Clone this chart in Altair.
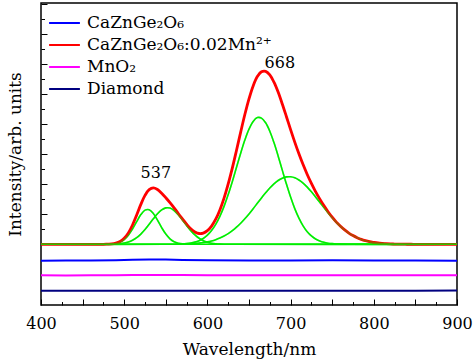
import altair as alt
import pandas as pd

FONT = "DejaVu Serif"

# ---------------- data ----------------
series_names = ["CaZnGe₂O₆", "CaZnGe₂O₆:0.02Mn²⁺", "MnO₂", "Diamond"]
series_colors = ["#0000ff", "#ff0000", "#ff00ff", "#000080"]

# flat reference spectra (offset below the main spectrum)
wl_base = [400, 430, 460, 490, 510, 530, 550, 570, 600, 650, 700, 750, 800, 850, 900]
blue_vals = [-16.4, -16.3, -16.2, -15.9, -15.5, -15.2, -15.3, -15.7, -16.0, -16.2, -16.3, -16.0, -16.2, -16.3, -16.5]
magenta_vals = [-31.0, -31.1, -31.0, -30.9, -30.8, -30.7, -30.8, -30.8, -30.9, -30.9, -31.0, -30.9, -31.0, -30.9, -30.9]
navy_vals = [-46.4, -46.5, -46.4, -46.5, -46.4, -46.4, -46.5, -46.4, -46.4, -46.5, -46.4, -46.5, -46.4, -46.4, -46.3]

# measured emission spectrum CaZnGe2O6:0.02Mn2+
wl_red = [400, 470, 475, 480, 485, 490, 495, 500, 505, 510, 515, 520, 525, 530, 535, 540, 545, 550,
          555, 560, 565, 570, 575, 580, 585, 590, 595, 600, 605, 610, 615, 620, 625, 630, 635, 640,
          645, 650, 655, 660, 665, 670, 675, 680, 685, 690, 695, 700, 705, 710, 715, 720, 725, 730,
          735, 740, 745, 750, 755, 760, 765, 770, 775, 780, 785, 790, 795, 800, 805, 810, 815, 820,
          825, 830, 835, 840, 845, 850, 855, 860, 900]
red_vals = [0, 0, 0, 0.2, 0.4, 1.2, 2.8, 6.0, 11.4, 19.3, 29.3, 39.9, 48.9, 54.6, 56.4, 54.8, 51.1, 46.6,
            41.7, 36.5, 30.8, 25.4, 20.1, 15.5, 12.4, 10.8, 11.2, 13.6, 18.2, 25.1, 34.4, 46.2, 60.4, 76.5, 94.1, 112.2,
            129.8, 145.5, 158.4, 167.7, 172.6, 173.0, 169.4, 162.1, 152.2, 140.3, 127.6, 114.7, 102.2, 90.5, 79.7, 69.8, 60.9, 52.7,
            45.4, 38.7, 32.6, 27.1, 22.2, 18.1, 14.4, 11.2, 8.7, 6.6, 4.9, 3.6, 2.6, 1.9, 1.3, 0.9, 0.6, 0.4,
            0.25, 0.16, 0.1, 0.06, 0.03, 0, 0, 0, 0]

# fitted components (green)
wl_g1 = [400, 470, 475, 480, 485, 490, 495, 500, 505, 510, 515, 520, 525, 530, 535, 540, 545, 550, 555,
         560, 565, 570, 575, 580, 590, 900]
g1_vals = [0, 0, 0.03, 0.1, 0.31, 0.88, 2.18, 4.74, 9.08, 15.3, 22.7, 29.7, 34.2, 34.6, 30.9, 24.2, 16.7, 10.2, 5.45,
           2.57, 1.07, 0.39, 0.12, 0.03, 0, 0]

wl_g2 = [400, 470, 480, 485, 490, 495, 500, 505, 510, 515, 520, 525, 530, 535, 540, 545, 550, 555, 560,
         565, 570, 575, 580, 585, 590, 595, 600, 605, 610, 615, 620, 630, 900]
g2_vals = [0, 0, 0.06, 0.13, 0.3, 0.63, 1.25, 2.31, 4.04, 6.61, 10.2, 14.7, 20.0, 25.5, 30.6, 34.4, 36.4, 36.2, 33.8,
           29.6, 24.4, 18.9, 13.7, 9.38, 6.02, 3.63, 2.05, 1.09, 0.55, 0.26, 0.11, 0.02, 0]

wl_g3 = [400, 550, 560, 570, 575, 580, 585, 590, 595, 600, 605, 610, 615, 620, 625, 630, 635, 640, 645,
         650, 655, 660, 665, 670, 675, 680, 685, 690, 695, 700, 705, 710, 715, 720, 725, 730, 735, 740,
         745, 750, 755, 760, 770, 900]
g3_vals = [0, 0, 0.1, 0.38, 0.71, 1.26, 2.18, 3.63, 5.84, 9.09, 13.7, 19.9, 27.9, 37.9, 49.7, 62.9, 77.0, 91.1, 104.2,
           115.1, 122.8, 126.7, 126.2, 121.5, 113.1, 101.7, 88.4, 74.2, 60.2, 47.2, 35.7, 26.2, 18.5, 12.6, 8.35, 5.32, 3.28, 1.96,
           1.13, 0.63, 0.33, 0.17, 0.04, 0]

wl_g4 = [400, 540, 560, 570, 575, 580, 585, 590, 595, 600, 605, 610, 615, 620, 625, 630, 635, 640, 645,
         650, 655, 660, 665, 670, 675, 680, 685, 690, 695, 700, 705, 710, 715, 720, 725, 730, 735, 740,
         745, 750, 755, 760, 765, 770, 775, 780, 785, 790, 795, 800, 805, 810, 815, 820, 825, 830, 835,
         840, 845, 850, 870, 900]
g4_vals = [0, 0, 0.09, 0.23, 0.36, 0.54, 0.81, 1.19, 1.72, 2.43, 3.38, 4.63, 6.23, 8.22, 10.68, 13.6, 17.1, 21.1, 25.6,
           30.4, 35.6, 41.0, 46.4, 51.5, 56.3, 60.4, 63.8, 66.1, 67.4, 67.5, 66.5, 64.3, 61.2, 57.2, 52.5, 47.4, 42.1, 36.7,
           31.5, 26.5, 21.9, 17.9, 14.3, 11.2, 8.67, 6.59, 4.92, 3.6, 2.6, 1.85, 1.28, 0.88, 0.59, 0.39, 0.25, 0.16, 0.1,
           0.06, 0.04, 0.02, 0, 0]

ann_labels = ["537", "668"]
ann_wl = [538, 687]
ann_vals = [71, 181]

x_major = [400, 450, 500, 550, 600, 650, 700, 750, 800, 850, 900]
x_minor = [425, 475, 525, 575, 625, 675, 725, 775, 825, 875]
x_label_vals = [400, 500, 600, 700, 800, 900]
y_major = [0, 30, 60, 90, 120, 150, 180, 210, 240]
y_minor = [15, 45, 75, 105, 135, 165, 195, 225]

# ---------------- tables ----------------
rows = []
for name, vals in [(series_names[0], blue_vals), (series_names[2], magenta_vals), (series_names[3], navy_vals)]:
    for w, v in zip(wl_base, vals):
        rows.append({"wl": w, "val": v, "series": name})
df_base = pd.DataFrame(rows)
df_red = pd.DataFrame({"wl": wl_red, "val": red_vals, "series": series_names[1]})

grows = []
for cid, (wls, vals) in enumerate([(wl_g1, g1_vals), (wl_g2, g2_vals), (wl_g3, g3_vals), (wl_g4, g4_vals)]):
    for w, v in zip(wls, vals):
        grows.append({"wl": w, "val": v, "comp": f"g{cid+1}"})
df_green = pd.DataFrame(grows)
df_ann = pd.DataFrame({"wl": ann_wl, "val": ann_vals, "label": ann_labels})

# ---------------- chart ----------------
W, H = 416, 302
x_scale = alt.Scale(domain=[400, 900], nice=False, zero=False)
y_scale = alt.Scale(domain=[-60.7, 241.3], nice=False, zero=False)
color_scale = alt.Scale(domain=series_names, range=series_colors)

axis_x_labels = alt.Axis(orient="bottom", values=x_label_vals, ticks=False, tickSize=0, domain=False, grid=False,
                         labelFont=FONT, labelFontSize=16, labelColor="black", labelPadding=10, format="d",
                         labelFlush=False, labelOverlap=False,
                         title="Wavelength/nm", titleFont=FONT, titleFontSize=17, titleFontWeight="normal",
                         titleColor="black", titlePadding=10)
axis_y_title = alt.Axis(orient="left", labels=False, ticks=False, domain=False, grid=False,
                        title="Intensity/arb. units", titleFont=FONT, titleFontSize=17, titleFontWeight="normal",
                        titleColor="black", titlePadding=17)
axis_x_major = alt.Axis(orient="top", offset=-H, values=x_major, tickSize=6, labels=False, domain=False,
                        grid=False, title=None)
axis_y_major = alt.Axis(orient="right", offset=-W, values=y_major, tickSize=6, labels=False, domain=False,
                        grid=False, title=None)
axis_x_minor = alt.Axis(orient="top", offset=-H, values=x_minor, tickSize=3.5, labels=False, domain=False,
                        grid=False, title=None)
axis_y_minor = alt.Axis(orient="right", offset=-W, values=y_minor, tickSize=3.5, labels=False, domain=False,
                        grid=False, title=None)

legend = alt.Legend(title=None, orient="none", legendX=8, legendY=9, symbolType="M-2.2,0H2.2",
                    symbolSize=196, symbolStrokeWidth=2, symbolOffset=7, labelFont=FONT, labelFontSize=17,
                    labelColor="black", labelOffset=14, rowPadding=0, padding=0, labelLimit=300, clipHeight=22)

base = alt.Chart(df_base).mark_line(strokeWidth=2).encode(
    x=alt.X("wl:Q", scale=x_scale, axis=axis_x_labels),
    y=alt.Y("val:Q", scale=y_scale, axis=axis_y_title),
    color=alt.Color("series:N", scale=color_scale, legend=legend),
)

green = alt.Chart(df_green).mark_line(strokeWidth=1.6, interpolate="catmull-rom", color="#00ee00").encode(
    x=alt.X("wl:Q", scale=x_scale, axis=axis_x_minor),
    y=alt.Y("val:Q", scale=y_scale, axis=axis_y_minor),
    detail="comp:N",
)

red = alt.Chart(df_red).mark_line(strokeWidth=2.8, interpolate="catmull-rom").encode(
    x=alt.X("wl:Q", scale=x_scale, axis=axis_x_major),
    y=alt.Y("val:Q", scale=y_scale, axis=axis_y_major),
    color=alt.Color("series:N", scale=color_scale, legend=None),
)

green_over = alt.Chart(df_green).mark_line(strokeWidth=1.6, interpolate="catmull-rom", color="#00ee00",
                                           opacity=0.35).encode(
    x=alt.X("wl:Q", scale=x_scale, axis=None),
    y=alt.Y("val:Q", scale=y_scale, axis=None),
    detail="comp:N",
)

ann = alt.Chart(df_ann).mark_text(font=FONT, fontSize=16, color="black", baseline="middle", align="center").encode(
    x=alt.X("wl:Q", scale=x_scale, axis=None),
    y=alt.Y("val:Q", scale=y_scale, axis=None),
    text="label:N",
)

chart = alt.layer(base, green, red, green_over, ann).resolve_axis(
    x="independent", y="independent"
).properties(
    width=W, height=H,
    autosize=alt.AutoSizeParams(type="none"),
    padding={"left": 41, "top": 3, "right": 16, "bottom": 58},
    background="white",
).configure(
    font=FONT
).configure_view(
    stroke="black", strokeWidth=1.5
).configure_axis(
    tickColor="black", tickWidth=1
)

chart.save("out.html", embed_options={"renderer": "svg", "actions": False})
